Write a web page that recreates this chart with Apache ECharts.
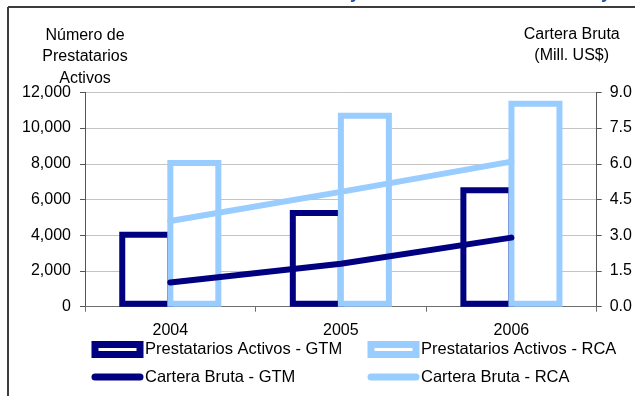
<!DOCTYPE html>
<html>
<head>
<meta charset="utf-8">
<script src="https://cdn.jsdelivr.net/npm/echarts@6/dist/echarts.min.js"></script>
<style>
  html, body { margin: 0; padding: 0; background: #ffffff; }
  #chart { width: 635px; height: 396px; }
</style>
</head>
<body>
<div id="chart"></div>
<script>
// Years on the category axis
const years = ['2004', '2005', '2006'];

// Active borrowers (left axis)
const borrowersGTM = [4200, 5410, 6680];
const borrowersRCA = [8210, 10860, 11530];

// Gross portfolio, million US$ (right axis)
const portfolioGTM = [1.02, 1.80, 2.90];
const portfolioRCA = [3.60, 4.82, 6.09];

// Axis scales
const leftMax = 12000, leftStep = 2000;
const rightMax = 9, rightStep = 1.5;

const NAVY = '#000080';
const LIGHT = '#99CCFF';
const FONT = "'Liberation Sans', Arial, sans-serif";

const chart = echarts.init(document.getElementById('chart'), null, { renderer: 'canvas' });

const baseText = { fontFamily: FONT, fontSize: 16, color: '#000' };

// two stacked legend columns; text nudged down so the swatch sits a little higher
const legendCommon = {
  orient: 'vertical',
  top: 337.5,
  height: 70,
  padding: 0,
  itemWidth: 45, itemHeight: 10, itemGap: 3.5,
  textStyle: Object.assign({}, baseText, { fontSize: 16.5, lineHeight: 18, padding: [6, 0, 0, 0] })
};
const hiddenDot = { color: 'rgba(0,0,0,0)', borderColor: 'rgba(0,0,0,0)', borderWidth: 0 };

chart.setOption({
  animation: false,
  backgroundColor: '#ffffff',
  textStyle: { fontFamily: FONT },
  grid: {
    left: 85, right: 38.3, top: 92.3, bottom: 89.3,
    containLabel: false,
    outerBoundsMode: 'none'
  },
  xAxis: {
    type: 'category',
    data: years,
    boundaryGap: true,
    axisLine: { lineStyle: { color: '#6e6e6e', width: 1 } },
    axisTick: { show: true, length: 5, lineStyle: { color: '#6e6e6e' } },
    axisLabel: Object.assign({ margin: 16 }, baseText),
    splitLine: { show: false }
  },
  yAxis: [
    {
      type: 'value',
      min: 0, max: leftMax, interval: leftStep,
      position: 'left',
      name: 'Número de\nPrestatarios\nActivos',
      nameLocation: 'end',
      nameGap: 3,
      nameMoveOverlap: false,
      nameTextStyle: Object.assign({ lineHeight: 21.5, align: 'center' }, baseText),
      axisLine: { show: true, lineStyle: { color: '#555', width: 1 } },
      axisTick: { show: true, length: 5, lineStyle: { color: '#555' } },
      axisLabel: Object.assign({
        margin: 14,
        formatter: v => v.toLocaleString('en-US')
      }, baseText),
      splitLine: { show: true, lineStyle: { color: '#c4c4c4', width: 1 } }
    },
    {
      type: 'value',
      min: 0, max: rightMax, interval: rightStep,
      position: 'right',
      name: 'Cartera Bruta\n(Mill. US$)',
      nameLocation: 'end',
      nameGap: 25.5,
      nameMoveOverlap: false,
      nameTextStyle: Object.assign({ lineHeight: 21.5, align: 'center', padding: [0, 50, 0, 0] }, baseText),
      axisLine: { show: true, lineStyle: { color: '#555', width: 1 } },
      axisTick: { show: true, length: 5, lineStyle: { color: '#555' } },
      axisLabel: Object.assign({
        margin: 13,
        formatter: v => v.toFixed(1)
      }, baseText),
      splitLine: { show: false }
    }
  ],
  legend: [
    Object.assign({}, legendCommon, {
      left: 91.5,
      data: [
        { name: 'Prestatarios Activos - GTM', icon: 'rect',
          itemStyle: { color: '#fff', borderColor: NAVY, borderWidth: 7 } },
        { name: 'Cartera Bruta - GTM',
          itemStyle: hiddenDot,
          lineStyle: { color: NAVY, width: 7, cap: 'round' } }
      ]
    }),
    Object.assign({}, legendCommon, {
      left: 367.5,
      data: [
        { name: 'Prestatarios Activos - RCA', icon: 'rect',
          itemStyle: { color: '#fff', borderColor: LIGHT, borderWidth: 7 } },
        { name: 'Cartera Bruta - RCA',
          itemStyle: hiddenDot,
          lineStyle: { color: LIGHT, width: 7, cap: 'round' } }
      ]
    })
  ],
  series: [
    {
      name: 'Prestatarios Activos - GTM',
      type: 'bar',
      yAxisIndex: 0,
      data: borrowersGTM,
      barWidth: 54,
      barGap: '-11%',
      itemStyle: { color: '#ffffff', borderColor: NAVY, borderWidth: 6 },
      z: 2
    },
    {
      name: 'Prestatarios Activos - RCA',
      type: 'bar',
      yAxisIndex: 0,
      data: borrowersRCA,
      barWidth: 54,
      barGap: '-11%',
      itemStyle: { color: '#ffffff', borderColor: LIGHT, borderWidth: 6 },
      z: 3
    },
    {
      name: 'Cartera Bruta - GTM',
      type: 'line',
      yAxisIndex: 1,
      data: portfolioGTM,
      symbol: 'none',
      lineStyle: { color: NAVY, width: 6, cap: 'round', join: 'round' },
      itemStyle: { color: NAVY },
      z: 5
    },
    {
      name: 'Cartera Bruta - RCA',
      type: 'line',
      yAxisIndex: 1,
      data: portfolioRCA,
      symbol: 'none',
      lineStyle: { color: LIGHT, width: 6, cap: 'round', join: 'round' },
      itemStyle: { color: LIGHT },
      z: 4
    }
  ],
  graphic: [
    // outer frame (left and top edges)
    { type: 'line', shape: { x1: 8, y1: 7, x2: 8, y2: 396 },
      style: { stroke: '#3c3c3c', lineWidth: 2 }, silent: true },
    { type: 'line', shape: { x1: 8, y1: 7, x2: 635, y2: 7 },
      style: { stroke: '#3c3c3c', lineWidth: 2 }, silent: true },
    // lower edge of the heading above the frame
    { type: 'text', left: 350, top: -16,
      style: { text: 'y', font: "bold 18px 'Liberation Sans', Arial", fill: '#1F4E9A' }, silent: true },
    { type: 'text', left: 601, top: -16,
      style: { text: 'y', font: "bold 18px 'Liberation Sans', Arial", fill: '#1F4E9A' }, silent: true }
  ]
});
</script>
</body>
</html>
